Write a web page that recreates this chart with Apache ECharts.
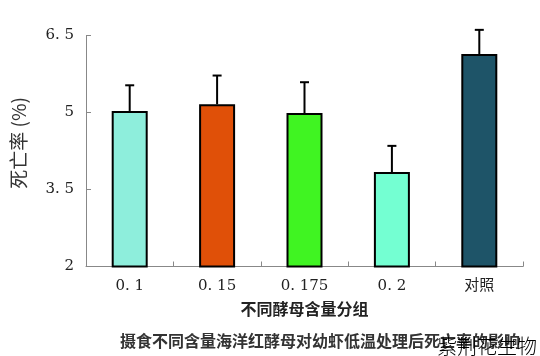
<!DOCTYPE html>
<html><head><meta charset="utf-8">
<script src="https://cdn.jsdelivr.net/npm/echarts@6/dist/echarts.min.js"></script>
<style>html,body{margin:0;padding:0;background:#fff}#c{width:540px;height:356px}</style>
</head><body><div id="c"></div>
<script>
const categories = ['0. 1', '0. 15', '0. 175', '0. 2', '对照'];
const meanValues = [5.03, 5.16, 4.99, 3.84, 6.14];
const sdValues = [0.50, 0.56, 0.60, 0.51, 0.47];
const barColors = ['#8EEEDC', '#E05008', '#40F422', '#74FFD2', '#1E5468'];
const yTicks = [2, 3.5, 5, 6.5];
const yTickLabels = ['2', '3. 5', '5', '6. 5'];

const chart = echarts.init(document.getElementById('c'));
chart.setOption({
  animation: false,
  grid: {left: 86, right: 17, top: 35.5, bottom: 89.5},
  xAxis: {
    type: 'category', data: categories, boundaryGap: true,
    axisLine: {lineStyle: {color: '#888', width: 1}},
    axisTick: {show: true, inside: true, length: 5, lineStyle: {color: '#888'}},
    axisLabel: {color: '#222', fontSize: 15, fontFamily: 'DejaVu Serif, Noto Sans CJK SC', margin: 12},
    name: '不同酵母含量分组', nameLocation: 'middle', nameGap: 34,
    nameTextStyle: {color: '#222', fontSize: 16, fontFamily: 'Noto Sans CJK SC', fontWeight: 'bold'}
  },
  yAxis: {
    type: 'value', min: 2, max: 6.5,
    splitLine: {show: false},
    axisLine: {show: true, lineStyle: {color: '#888', width: 1}},
    axisTick: {show: true, inside: true, length: 5, customValues: yTicks, lineStyle: {color: '#888'}},
    axisLabel: {customValues: yTicks, color: '#222', fontSize: 15, fontFamily: 'DejaVu Serif', margin: 12,
      formatter: v => yTickLabels[yTicks.indexOf(v)] ?? ''}
  },
  series: [
    {
      type: 'bar', barWidth: 36,
      data: meanValues.map((v, i) => ({value: v, itemStyle: {color: barColors[i]}})),
      itemStyle: {borderColor: '#000', borderWidth: 2},
      z: 2
    },
    {
      type: 'custom', clip: false, z: 1,
      data: meanValues.map((v, i) => [i, v, v + sdValues[i]]),
      renderItem: (params, api) => {
        const b = api.coord([api.value(0), api.value(1)]);
        const t = api.coord([api.value(0), api.value(2)]);
        const cap = 4.5;
        return {type: 'group', children: [
          {type: 'line', shape: {x1: b[0], y1: b[1], x2: t[0], y2: t[1]}, style: {stroke: '#000', lineWidth: 2}},
          {type: 'line', shape: {x1: t[0] - cap, y1: t[1], x2: t[0] + cap, y2: t[1]}, style: {stroke: '#000', lineWidth: 2}}
        ]};
      }
    }
  ],
  graphic: [
    {type: 'text', x: 19, y: 143, rotation: Math.PI / 2,
      style: {text: '死亡率 (%)', font: '19px "Noto Sans CJK SC"', fill: '#333', align: 'center', verticalAlign: 'middle'}},
    {type: 'text', x: 120, y: 341, style: {text: '摄食不同含量海洋红酵母对幼虾低温处理后死亡率的影响', font: 'bold 16px "Noto Sans CJK SC"', fill: '#333', verticalAlign: 'middle'}},
    {type: 'text', x: 437, y: 346, style: {text: '紫荆花生物', font: '300 20px "Noto Sans CJK SC"', fill: '#000', verticalAlign: 'middle'}}
  ]
});
</script></body></html>
